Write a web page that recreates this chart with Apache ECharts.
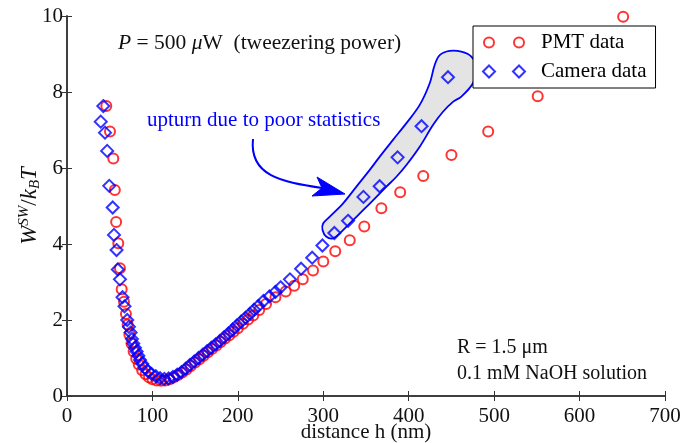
<!DOCTYPE html>
<html>
<head>
<meta charset="utf-8">
<script src="https://cdn.jsdelivr.net/npm/echarts@6/dist/echarts.min.js"></script>
<style>html,body{margin:0;padding:0;background:#fff;}#c{width:697px;height:443px;}</style>
</head>
<body>
<div id="c"></div>
<script>
// ---- data ----
const pmtDistance = [46,50.3,54.2,56,57.5,60,62,64,66.7,69,71,73,75.5,78,81,84,88,92,96,100,105,110,115,120,125,130,135,140,145,150,155,160,165,170,175,180,185,190,195,200,206,212,218,225,233,244,256,266,276,288,300,314,331,348,368,390,417,450,493,551,651];
const pmtEnergy   = [7.63,6.96,6.25,5.42,4.58,4.02,3.36,2.81,2.48,2.16,1.88,1.62,1.38,1.17,0.98,0.83,0.68,0.57,0.49,0.44,0.41,0.40,0.41,0.44,0.49,0.55,0.62,0.70,0.79,0.88,0.97,1.06,1.15,1.24,1.33,1.42,1.51,1.60,1.69,1.78,1.90,2.01,2.12,2.26,2.42,2.60,2.75,2.90,3.07,3.30,3.54,3.81,4.10,4.46,4.94,5.36,5.79,6.34,6.96,7.89,9.98];
const cameraDistance = [42.5,39.5,44.5,47,49.5,53.5,55,58,59.5,62,65,67.3,70.5,72.5,74.5,76,77.6,79.5,81.5,83.5,85.5,88,91,95,99,104,109,114,119,124,129,134,139,144,149,154,159,164,169,174,179,184,189,194,199,204,209,214,219,224,230,237,244,250,261,274,287,299,313,329,347,366,387,415,446];
const cameraEnergy   = [7.63,7.22,6.93,6.45,5.53,4.96,4.24,3.84,3.33,3.07,2.60,2.36,2.00,1.82,1.67,1.50,1.38,1.27,1.17,1.06,0.95,0.85,0.74,0.65,0.58,0.52,0.47,0.45,0.46,0.50,0.56,0.63,0.72,0.82,0.91,1.00,1.09,1.18,1.27,1.36,1.45,1.55,1.65,1.75,1.86,1.96,2.06,2.16,2.27,2.37,2.50,2.62,2.74,2.86,3.07,3.35,3.64,3.96,4.29,4.61,5.24,5.52,6.28,7.10,8.39];
// outline of the shaded "poor statistics" region (data units)
const regionDistance = [307.6,323.2,338.8,354.4,366.1,381.6,397.3,412.9,424.6,430.4,436.3,448,461.6,473.3,479.5,475.2,461.6,451.8,440.1,428.4,412.9,397.3,385.6,373.9,362.2,346.6,331,319.3,311.5,303.7,299.1,299.8];
const regionEnergy   = [4.72,5.07,5.51,5.95,6.30,6.74,7.18,7.66,8.23,8.71,8.97,9.08,9.06,8.93,8.63,8.23,7.88,7.74,7.48,7.13,6.56,6.08,5.77,5.51,5.24,4.89,4.54,4.28,4.15,4.19,4.37,4.54];
const xTicks = [0,100,200,300,400,500,600,700];
const yTicks = [0,2,4,6,8,10];

const FONT = 'Liberation Serif, "DejaVu Serif", serif';
const zip = (a, b) => a.map((v, i) => [v, b[i]]);
const pmtData = zip(pmtDistance, pmtEnergy);
const cameraData = zip(cameraDistance, cameraEnergy);
const regionOutline = zip(regionDistance, regionEnergy);

const chart = echarts.init(document.getElementById('c'), null, {renderer: 'canvas'});
const axisLine = {show: true, lineStyle: {color: '#333', width: 1.5}};
const tick = {inside: true, length: 5, lineStyle: {color: '#333', width: 1}};
const baseX = {type: 'value', min: xTicks[0], max: xTicks[xTicks.length - 1], interval: 100, splitLine: {show: false}};
const baseY = {type: 'value', min: yTicks[0], max: yTicks[yTicks.length - 1], interval: 2, splitLine: {show: false}};

chart.setOption({
  animation: false,
  backgroundColor: '#fff',
  grid: {left: 67, right: 32, top: 16, bottom: 47, containLabel: false, outerBoundsMode: 'none'},
  xAxis: [
    Object.assign({}, baseX, {
      position: 'bottom', axisLine: axisLine, axisTick: tick,
      axisLabel: {color: '#111', fontFamily: FONT, fontSize: 21, margin: 10},
      name: 'distance h (nm)', nameLocation: 'middle', nameGap: 26, nameMoveOverlap: false,
      nameTextStyle: {color: '#111', fontFamily: FONT, fontSize: 21}
    }),
    Object.assign({}, baseX, {
      position: 'top', axisLine: axisLine, axisTick: tick, axisLabel: {show: false}
    })
  ],
  yAxis: [
    Object.assign({}, baseY, {
      position: 'left', axisLine: axisLine, axisTick: tick,
      axisLabel: {color: '#111', fontFamily: FONT, fontSize: 21, margin: 4},
      name: '{i|W}{sup|SW}{n|/}{i|k}{sub|B}{i|T}', nameLocation: 'middle', nameGap: 24, nameMoveOverlap: false,
      nameTextStyle: {
        color: '#111', fontFamily: FONT, fontSize: 22,
        rich: {
          i: {fontFamily: FONT, fontSize: 23, fontStyle: 'italic', color: '#111', lineHeight: 26},
          n: {fontFamily: FONT, fontSize: 23, color: '#111', lineHeight: 26},
          sup: {fontFamily: FONT, fontSize: 15, fontStyle: 'italic', color: '#111', verticalAlign: 'top', lineHeight: 15},
          sub: {fontFamily: FONT, fontSize: 15, fontStyle: 'italic', color: '#111', verticalAlign: 'bottom', lineHeight: 13}
        }
      }
    }),
    Object.assign({}, baseY, {
      position: 'right', axisLine: axisLine, axisTick: tick, axisLabel: {show: false}
    })
  ],
  legend: {
    orient: 'vertical', left: 473, top: 26, padding: [5, 9, 5, 9], itemGap: 6,
    itemWidth: 42, itemHeight: 12,
    backgroundColor: '#fff', borderColor: '#000', borderWidth: 1, borderRadius: 0,
    textStyle: {fontFamily: FONT, fontSize: 21, color: '#000', lineHeight: 23, padding: [0, 0, 0, 11]},
    itemStyle: {borderWidth: 2, color: 'rgba(0,0,0,0)'},
    data: [
      {name: 'PMT data', icon: 'path://M0,0M42,12M1,6A5,5,0,1,1,11,6A5,5,0,1,1,1,6ZM31,6A5,5,0,1,1,41,6A5,5,0,1,1,31,6Z', itemStyle: {borderColor: '#ff0000', color: 'rgba(0,0,0,0)'}},
      {name: 'Camera data', icon: 'path://M0,6L6,0L12,6L6,12ZM30,6L36,0L42,6L36,12Z', itemStyle: {borderColor: '#0000ff', color: 'rgba(0,0,0,0)'}}
    ],
    selectedMode: false, z: 10
  },
  series: [
    {
      name: 'region', type: 'custom', z: 1, silent: true,
      data: [[regionDistance[0], regionEnergy[0]]],
      renderItem: function (params, api) {
        return {
          type: 'polygon',
          shape: {points: regionOutline.map(p => api.coord(p)), smooth: 0.35},
          style: {fill: '#e4e4e4', stroke: '#0000ff', lineWidth: 1.8}
        };
      }
    },
    {
      name: 'PMT data', type: 'scatter', z: 2, data: pmtData,
      symbol: 'circle', symbolSize: 10,
      itemStyle: {color: 'rgba(0,0,0,0)', borderColor: '#ff0000', borderWidth: 2}
    },
    {
      name: 'Camera data', type: 'scatter', z: 3, data: cameraData,
      symbol: 'diamond', symbolSize: 12,
      itemStyle: {color: 'rgba(0,0,0,0)', borderColor: '#0000ff', borderWidth: 2}
    }
  ],
  graphic: [
    {type: 'text', x: 118, y: 43, style: {text: '{i|P} = 500 {i|μ}W  (tweezering power)', textAlign: 'left', textVerticalAlign: 'middle', fill: '#111', font: '21.5px ' + FONT,
      rich: {i: {fontStyle: 'italic', fontFamily: FONT, fontSize: 21.5, fill: '#111'}}}},
    {type: 'text', x: 147, y: 120, style: {text: 'upturn due to poor statistics', textAlign: 'left', textVerticalAlign: 'middle', fill: '#0000ff', font: '21px ' + FONT}},
    {type: 'text', x: 457, y: 348, style: {text: 'R = 1.5 μm', textAlign: 'left', textVerticalAlign: 'middle', fill: '#111', font: '20px ' + FONT}},
    {type: 'text', x: 457, y: 374, style: {text: '0.1 mM NaOH solution', textAlign: 'left', textVerticalAlign: 'middle', fill: '#111', font: '20px ' + FONT}},
    {type: 'bezierCurve', shape: {x1: 253, y1: 139, cpx1: 249, cpy1: 176, cpx2: 282, cpy2: 182, x2: 322, y2: 188}, style: {stroke: '#0000ff', lineWidth: 2, fill: null}},
    {type: 'polygon', shape: {points: [[345, 194], [317, 177], [322, 188], [312, 196]]}, style: {fill: '#0000ff', stroke: '#0000ff', lineWidth: 1}}
  ]
});
</script>
</body>
</html>
